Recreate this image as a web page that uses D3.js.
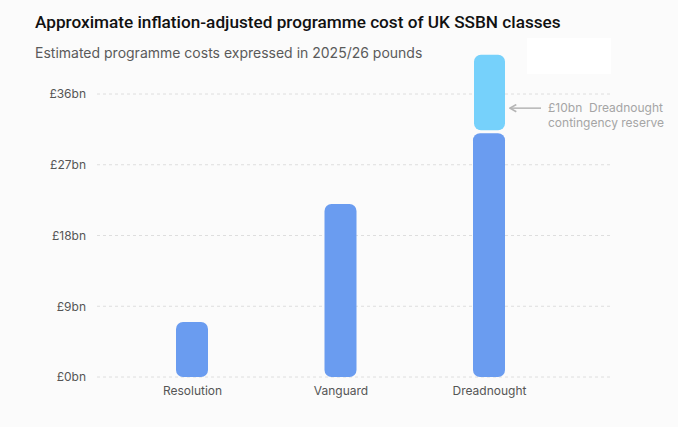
<!DOCTYPE html>
<html lang="en">
<head>
<meta charset="UTF-8">
<title>UK SSBN programme cost</title>
<script src="https://cdn.jsdelivr.net/npm/d3@7"></script>
<style>
  body { margin: 0; background: #fbfbfb; }
  svg { display: block; font-family: Inter, "Noto Sans", sans-serif; }
</style>
</head>
<body>
<script>
// values in £bn, 2025/26 prices
var classes = ["Resolution", "Vanguard", "Dreadnought"];
var baseCost = [7, 22, 31];
var reserve = [0, 0, 10];
var yTicks = [0, 9, 18, 27, 36];

var width = 678, height = 427;

var svg = d3.select("body").append("svg")
    .attr("width", width)
    .attr("height", height);

svg.append("rect")
    .attr("width", width).attr("height", height)
    .attr("fill", "#fbfbfb");

// blank white box top right
svg.append("rect")
    .attr("x", 527).attr("y", 38)
    .attr("width", 84).attr("height", 36)
    .attr("fill", "#ffffff");

svg.append("text")
    .attr("x", 35).attr("y", 28)
    .attr("font-size", 17.2)
    .attr("font-weight", 500)
    .attr("font-family", "Roboto, sans-serif")
    .attr("fill", "#111")
    .text("Approximate inflation-adjusted programme cost of UK SSBN classes");

svg.append("text")
    .attr("x", 35).attr("y", 58)
    .attr("font-size", 14)
    .attr("fill", "#5a5a5a")
    .text("Estimated programme costs expressed in 2025/26 pounds");

var x = d3.scalePoint()
    .domain(classes)
    .range([192, 489]);

var y = d3.scaleLinear()
    .domain([0, 36])
    .range([377, 94]);

// grid
svg.selectAll(".grid")
    .data(yTicks)
    .enter().append("line")
    .attr("x1", 97).attr("x2", 611)
    .attr("y1", d => y(d)).attr("y2", d => y(d))
    .attr("stroke", "#dedede")
    .attr("stroke-dasharray", "3,3");

var yAxis = d3.axisLeft(y)
    .tickValues(yTicks)
    .tickSize(0)
    .tickPadding(0)
    .tickFormat(d => "£" + d + "bn");

svg.append("g")
    .attr("transform", "translate(86,0)")
    .call(yAxis)
    .call(g => g.select(".domain").remove())
    .call(g => g.selectAll("text")
        .attr("font-size", 12)
        .attr("font-family", "Inter, 'Noto Sans', sans-serif")
        .attr("fill", "#555"));

var xAxis = d3.axisBottom(x).tickSize(0).tickPadding(0);

svg.append("g")
    .attr("transform", "translate(0,386)")
    .call(xAxis)
    .call(g => g.select(".domain").remove())
    .call(g => g.selectAll("text")
        .attr("font-size", 12)
        .attr("font-family", "Inter, 'Noto Sans', sans-serif")
        .attr("fill", "#555"));

var barW = 32;
var data = classes.map((c, i) => ({ name: c, base: baseCost[i], extra: reserve[i] }));

svg.selectAll(".bar")
    .data(data)
    .enter().append("rect")
    .attr("class", "bar")
    .attr("x", d => x(d.name) - barW / 2)
    .attr("y", d => y(d.base))
    .attr("width", barW)
    .attr("height", d => y(0) - y(d.base))
    .attr("rx", 7)
    .attr("fill", "#6a9cf0");

svg.selectAll(".reserve")
    .data(data.filter(d => d.extra > 0))
    .enter().append("rect")
    .attr("class", "reserve")
    .attr("x", d => x(d.name) - barW / 2 + 1)
    .attr("y", d => y(d.base + d.extra))
    .attr("width", barW - 1)
    .attr("height", d => y(d.base) - y(d.base + d.extra) - 3)
    .attr("rx", 7)
    .attr("fill", "#76d1fb");

// annotation
var ann = data[2];
var annY = y(ann.base + ann.extra * 0.32);
svg.append("defs").append("marker")
    .attr("id", "arr")
    .attr("viewBox", "0 0 10 10")
    .attr("refX", 9).attr("refY", 5)
    .attr("markerUnits", "userSpaceOnUse")
    .attr("markerWidth", 9).attr("markerHeight", 9)
    .attr("orient", "auto")
    .append("path")
    .attr("d", "M2,1 L9,5 L2,9")
    .attr("fill", "none")
    .attr("stroke", "#b5b5b5")
    .attr("stroke-width", 1.8);

svg.append("line")
    .attr("x1", 541).attr("x2", 510)
    .attr("y1", annY).attr("y2", annY)
    .attr("stroke", "#b5b5b5")
    .attr("stroke-width", 1.5)
    .attr("marker-end", "url(#arr)");

var t = svg.append("text")
    .attr("x", 548).attr("y", annY + 4)
    .attr("font-size", 12)
    .attr("fill", "#a5a5a5");
t.append("tspan").text("£" + ann.extra + "bn\u00a0 Dreadnought");
t.append("tspan").attr("x", 548).attr("dy", 15).text("contingency reserve");
</script>
</body>
</html>
